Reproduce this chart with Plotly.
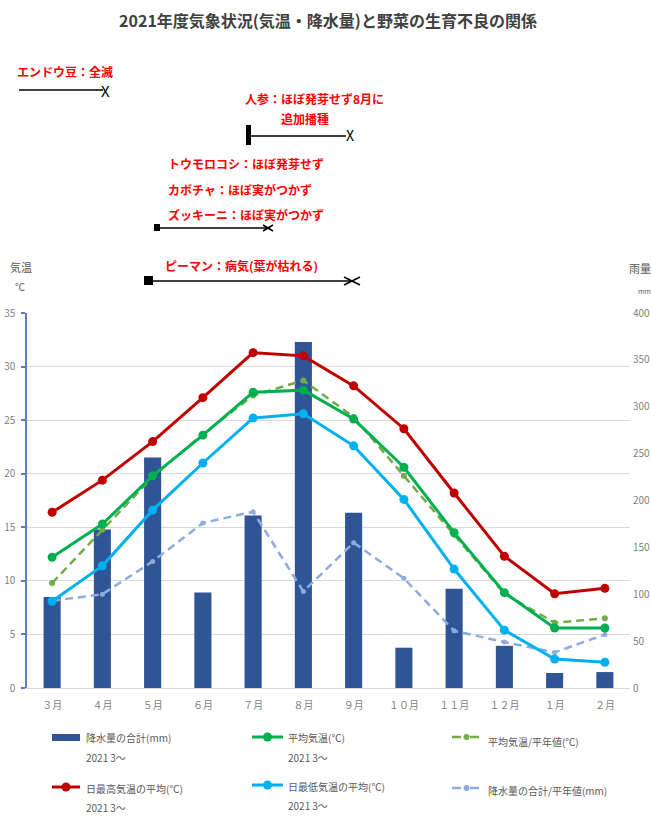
import plotly.graph_objects as go

# ---- data -------------------------------------------------------------
months = ["３月", "４月", "５月", "６月", "７月", "８月", "９月",
          "１０月", "１１月", "１２月", "１月", "２月"]
rain_2021 = [97, 169, 246, 102, 184, 369, 187, 43, 106, 45, 16, 17]          # mm
rain_normal = [93, 100, 135, 176, 188, 103, 155, 117, 61, 49, 38, 57]        # mm
temp_avg = [12.2, 15.3, 19.8, 23.6, 27.6, 27.8, 25.1, 20.6, 14.5, 8.9, 5.6, 5.6]
temp_avg_normal = [9.8, 14.8, 19.7, 23.7, 27.3, 28.7, 25.3, 19.8, 14.3, 8.8, 6.1, 6.5]
temp_max = [16.4, 19.4, 23.0, 27.1, 31.3, 31.0, 28.2, 24.2, 18.2, 12.3, 8.8, 9.3]
temp_min = [8.1, 11.4, 16.6, 21.0, 25.2, 25.6, 22.6, 17.6, 11.1, 5.4, 2.7, 2.4]

temp_ticks = [0, 5, 10, 15, 20, 25, 30, 35]
rain_ticks = [0, 50, 100, 150, 200, 250, 300, 350, 400]

# ---- page geometry ----------------------------------------------------
W, H = 651, 825
L, R, T, B = 27, 21, 313, 137
PW, PH = W - L - R, H - T - B

def px(x):
    return (x - L) / PW

def py(y):
    return (H - B - y) / PH

JP = "Noto Sans CJK JP"
C_BAR = "#2f5597"
C_RAIN_N = "#8faadc"
C_AVG = "#00b050"
C_AVG_N = "#70ad47"
C_MAX = "#c00000"
C_MIN = "#00b0f0"
GRAY = "#7f7f7f"

fig = go.Figure()

fig.add_trace(go.Bar(x=months, y=rain_2021, yaxis="y", width=0.34,
                     marker=dict(color=C_BAR, line=dict(width=0)),
                     name="降水量の合計(mm)"))
fig.add_trace(go.Scatter(x=months, y=rain_normal, yaxis="y", mode="lines+markers",
                         line=dict(color=C_RAIN_N, width=2.5, dash="8px,5px"),
                         marker=dict(size=5, color=C_RAIN_N),
                         name="降水量の合計/平年値(mm)"))
fig.add_trace(go.Scatter(x=months, y=temp_avg_normal, yaxis="y2", mode="lines+markers",
                         line=dict(color=C_AVG_N, width=2.5, dash="8px,5px"),
                         marker=dict(size=6, color=C_AVG_N),
                         name="平均気温/平年値(℃)"))
fig.add_trace(go.Scatter(x=months, y=temp_avg, yaxis="y2", mode="lines+markers",
                         line=dict(color=C_AVG, width=3),
                         marker=dict(size=9, color=C_AVG), name="平均気温(℃)"))
fig.add_trace(go.Scatter(x=months, y=temp_max, yaxis="y2", mode="lines+markers",
                         line=dict(color=C_MAX, width=3),
                         marker=dict(size=9, color=C_MAX), name="日最高気温の平均(℃)"))
fig.add_trace(go.Scatter(x=months, y=temp_min, yaxis="y2", mode="lines+markers",
                         line=dict(color=C_MIN, width=3),
                         marker=dict(size=9, color=C_MIN), name="日最低気温の平均(℃)"))

shapes = []
annotations = []

def text(s, x, y, size=12, color="#ff0000", anchor="left", bold=False):
    annotations.append(dict(
        text=f"<b>{s}</b>" if bold else s, x=px(x), y=py(y),
        xref="paper", yref="paper", xanchor=anchor, yanchor="middle",
        showarrow=False, font=dict(family=JP, size=size, color=color)))

def seg(x0, y0, x1, y1, color="#000000", width=1.5, dash=None):
    shapes.append(dict(type="line", xref="paper", yref="paper",
                       x0=px(x0), y0=py(y0), x1=px(x1), y1=py(y1),
                       line=dict(color=color, width=width, dash=dash)))

def box(x0, y0, x1, y1, color="#000000"):
    shapes.append(dict(type="rect", xref="paper", yref="paper",
                       x0=px(x0), y0=py(y1), x1=px(x1), y1=py(y0),
                       fillcolor=color, line=dict(width=0)))

def dot(cx, cy, r, color):
    shapes.append(dict(type="circle", xref="paper", yref="paper",
                       x0=px(cx - r), y0=py(cy + r), x1=px(cx + r), y1=py(cy - r),
                       fillcolor=color, line=dict(width=0)))

# ---- crop damage notes with growing-period bars ------------------------
text("エンドウ豆：全滅", 15, 72, bold=True)
seg(19, 90, 103, 90, color="#404040", width=2)
text("X", 106, 90, size=15, color="#000000", anchor="center")

text("人参：ほぼ発芽せず8月に", 243, 98, bold=True)
text("追加播種", 279, 119, bold=True)
box(246, 125, 251, 145)
seg(251, 136, 346, 136)
text("X", 350, 135, size=14, color="#000000", anchor="center")

text("トウモロコシ：ほぼ発芽せず", 166, 163, bold=True)
text("カボチャ：ほぼ実がつかず", 166, 189, bold=True)
text("ズッキーニ：ほぼ実がつかず", 166, 214, bold=True)
box(154, 224, 160, 231)
seg(160, 228, 268, 228)
seg(263, 225, 273, 231)
seg(263, 231, 273, 225)

text("ピーマン：病気(葉が枯れる)", 163, 265, bold=True)
box(144, 276, 153, 285)
seg(153, 281, 352, 281)
seg(344, 277, 360, 285)
seg(344, 285, 360, 277)

# ---- axis captions ----------------------------------------------------
text("気温", 21, 267, size=11, color="#595959", anchor="center")
text("℃", 20, 286, size=10, color="#595959", anchor="center")
text("雨量", 627, 268, size=11, color="#595959")
text("mm", 636, 291, size=7, color="#595959")

# ---- legend -----------------------------------------------------------
LG = "#595959"
box(52, 734, 80, 741, C_BAR)
text("降水量の合計(mm)", 84, 737, size=10, color=LG)
text("2021\u20093～", 84, 757, size=10, color=LG)

seg(252, 737, 283, 737, color=C_AVG, width=3)
dot(267.5, 737, 4.5, C_AVG)
text("平均気温(℃)", 286, 737, size=10, color=LG)
text("2021\u20093～", 286, 757, size=10, color=LG)

seg(452, 737, 481, 737, color=C_AVG_N, width=2.5, dash="dash")
dot(466.5, 737, 3, C_AVG_N)
text("平均気温/平年値(℃)", 486, 741, size=10, color=LG)

seg(52, 787, 80, 787, color=C_MAX, width=3)
dot(66, 787, 4.5, C_MAX)
text("日最高気温の平均(℃)", 84, 788, size=10, color=LG)
text("2021\u20093～", 84, 807, size=10, color=LG)

seg(252, 785, 283, 785, color=C_MIN, width=3)
dot(267.5, 785, 4.5, C_MIN)
text("日最低気温の平均(℃)", 286, 786, size=10, color=LG)
text("2021\u20093～", 286, 805, size=10, color=LG)

seg(452, 788, 481, 788, color=C_RAIN_N, width=2.5, dash="dash")
dot(466.5, 788, 3, C_RAIN_N)
text("降水量の合計/平年値(mm)", 486, 790, size=10, color=LG)

fig.update_layout(
    width=W, height=H,
    margin=dict(l=L, r=R, t=T, b=B, pad=0, autoexpand=False),
    paper_bgcolor="white", plot_bgcolor="white",
    font=dict(family=JP, color=GRAY),
    showlegend=False,
    title=dict(text="<b>2021年度気象状況(気温・降水量)と野菜の生育不良の関係</b>",
               x=px(328), xref="paper", xanchor="center",
               y=1 - 21 / H, yref="container", yanchor="middle",
               font=dict(family=JP, size=16, color="#404040")),
    xaxis=dict(type="category", range=[-0.5, 11.5], showgrid=False, automargin=False,
               showline=True, linecolor="#d9d9d9", linewidth=1, ticks="",
               tickfont=dict(size=10, color=GRAY), ticklabelstandoff=8),
    yaxis=dict(range=[0, 400], tickvals=rain_ticks, side="right", automargin=False,
               showgrid=False, zeroline=False, showline=False, ticks="",
               tickfont=dict(size=10, color=GRAY), ticklabelstandoff=2),
    yaxis2=dict(range=[0, 35], tickvals=temp_ticks, side="left", overlaying="y",
                automargin=False,
                showgrid=True, gridcolor="#d9d9d9", gridwidth=1, zeroline=False,
                showline=True, linecolor="#5b7bd5", linewidth=1.5,
                ticks="outside", ticklen=4, tickcolor="#5b7bd5", tickwidth=1.5,
                tickfont=dict(size=10, color=GRAY), ticklabelstandoff=4),
    shapes=shapes, annotations=annotations,
)

fig.write_html("out.html")
